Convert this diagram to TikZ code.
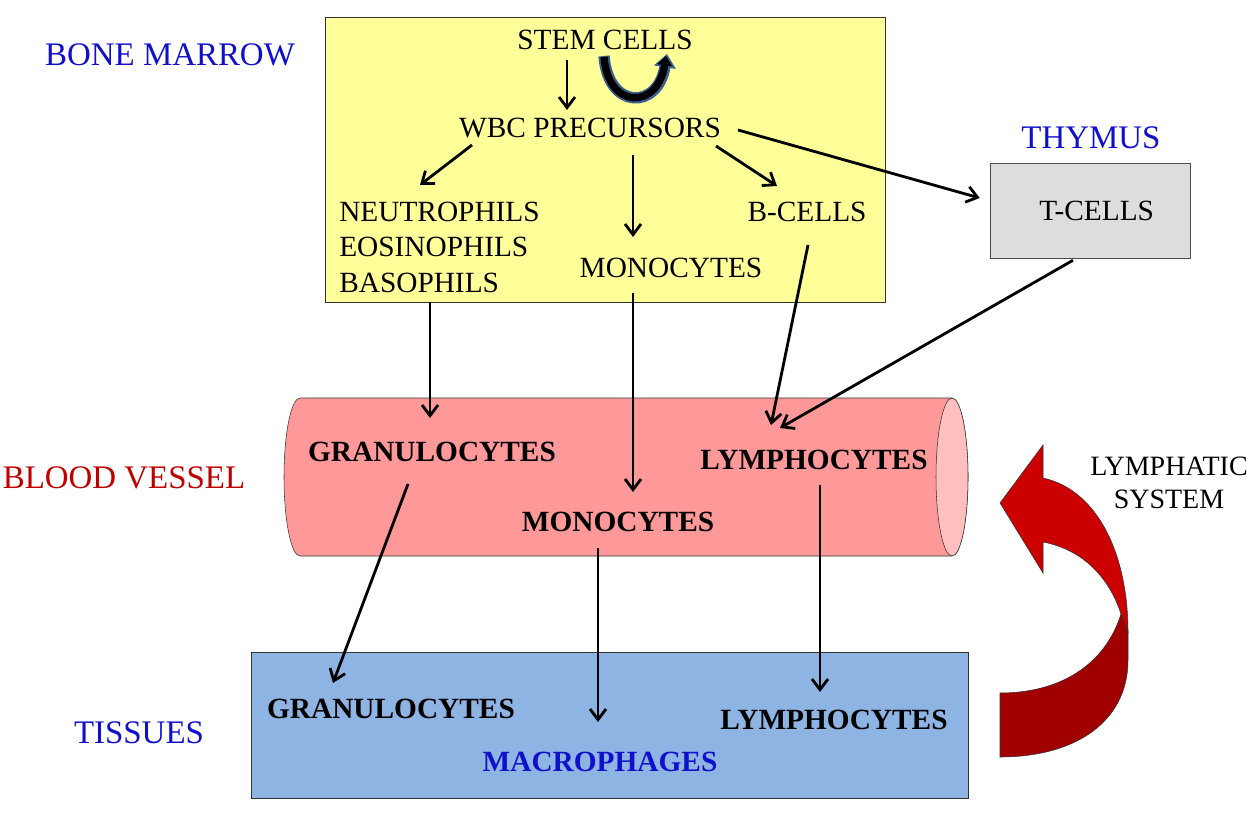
\documentclass[tikz,border=0pt]{standalone}
\usepackage{fontspec}
\setmainfont{Liberation Serif}
\usetikzlibrary{arrows.meta,calc}

\definecolor{marrowyellow}{HTML}{FFFF99}
\definecolor{vesselpink}{HTML}{FF9999}
\definecolor{vesselcap}{HTML}{FFBFBF}
\definecolor{thymusgray}{HTML}{DDDDDD}
\definecolor{tissueblue}{HTML}{8EB4E3}
\definecolor{labelblue}{HTML}{1010CC}
\definecolor{labelred}{HTML}{C00000}
\definecolor{lymphred}{HTML}{CC0000}
\definecolor{lymphdark}{HTML}{A00000}
\definecolor{loopblue}{HTML}{3A5F8F}

\begin{document}
\begin{tikzpicture}[x=0.75pt,y=0.75pt,yscale=-1,xscale=1,
    txt/.style={inner sep=0.75pt,font=\fontsize{22}{26.6}\selectfont},
    bold/.style={inner sep=0.75pt,font=\fontsize{22}{26.6}\selectfont\bfseries},
    region/.style={inner sep=0.75pt,font=\fontsize{24.7}{30}\selectfont},
    arr/.style={line width=2.1pt,-{Straight Barb[length=8pt,width=12pt]}}]

    \useasboundingbox (0,0) rectangle (1257,813);

    % Boxes
    \draw[fill=marrowyellow, draw=black!80] (325,17) rectangle (885,302);
    \draw[fill=tissueblue, draw=black!80] (251,652) rectangle (968,798);
    \node[draw=black!70, fill=thymusgray, minimum width=150pt, minimum height=71.25pt,
          txt, text depth=0pt] (tcells) at (1090,210.5) {\hspace*{10pt}T-CELLS};

    % Blood vessel
    \draw[fill=vesselpink, draw=black!80] (300,398) -- (952,398)
        arc[start angle=-90, end angle=90, x radius=16, y radius=79]
        -- (300,556)
        arc[start angle=90, end angle=270, x radius=16, y radius=79] -- cycle;
    \draw[fill=vesselcap, draw=black!80] (952,477) ellipse [x radius=16, y radius=79];

    % Lymphatic arrow
    \draw[fill=lymphdark, draw=black!80] (1121,614) -- (1128,632) -- (1128,660)
        .. controls (1128,722) and (1075,757) .. (1000,757) -- (1000,693)
        .. controls (1060,693) and (1105,665) .. (1121,614) -- cycle;
    \draw[fill=lymphred, draw=black!80] (1043,478)
        .. controls (1098,490) and (1128,555) .. (1128,632) -- (1121,614)
        .. controls (1110,580) and (1085,550) .. (1043,542)
        -- (1043,573) -- (1000,503) -- (1043,445) -- cycle;

    % Region labels
    \node[region, text=labelblue] (marrow) at (170,55) {BONE MARROW};
    \node[region, text=labelblue] (thymus) at (1091,138) {THYMUS};
    \node[region, text=labelred] (vessel) at (124,478) {BLOOD VESSEL};
    \node[region, text=labelblue] (tissues) at (139,733) {TISSUES};
    \node[inner sep=0.75pt, align=center, font=\fontsize{21}{24.5}\selectfont]
        (lymphatic) at (1169,483) {LYMPHATIC\\SYSTEM};

    % Bone marrow cells
    \node[txt] (stem) at (605,40) {STEM CELLS};
    \node[txt] (wbc) at (590,128) {WBC PRECURSORS};
    \node[txt, anchor=west, align=left] (neut) at (338,247) {NEUTROPHILS\\EOSINOPHILS\\BASOPHILS};
    \node[txt] (mono1) at (671,268) {MONOCYTES};
    \node[txt] (bcells) at (807,212) {B-CELLS};

    % Blood vessel cells
    \node[bold] (gran2) at (432,452) {GRANULOCYTES};
    \node[bold] (lymph2) at (814,460) {LYMPHOCYTES};
    \node[bold] (mono2) at (618,522) {MONOCYTES};

    % Tissue cells
    \node[bold] (gran3) at (391,709) {GRANULOCYTES};
    \node[bold, text=labelblue] (macro) at (600,762) {MACROPHAGES};
    \node[bold] (lymph3) at (834,720) {LYMPHOCYTES};

    % Self renewal
    \draw[line width=8.5pt, draw=loopblue, -{Triangle[length=10pt,width=16pt]}]
        ($(stem)+(-1,16)$) .. controls ($(stem)+(3,70)$) and ($(stem)+(53,70)$) .. ($(stem)+(62,14)$);
    \draw[line width=5.5pt, -{Triangle[length=7pt,width=11pt]}]
        ($(stem)+(-1,17)$) .. controls ($(stem)+(3,70)$) and ($(stem)+(53,70)$) .. ($(stem)+(61,16)$);

    % Arrows
    \draw[arr] ($(stem)+(-38,20)$) -- ($(wbc)+(-23,-18)$);
    \draw[arr] ($(wbc)+(-118,17)$) -- ($(neut.west)+(82,-62)$);
    \draw[arr] ($(wbc)+(43,27)$) -- ($(mono1)+(-38,-31)$);
    \draw[arr] ($(wbc)+(126,18)$) -- ($(bcells)+(-30,-26)$);
    \draw[arr] ($(wbc)+(148,2)$) -- ($(tcells.west)+(-10,-12.5)$);
    \draw[arr] ($(neut.west)+(92,55)$) -- ($(gran2)+(-2,-34)$);
    \draw[arr] ($(mono1)+(-38,25)$) -- ($(mono2)+(15,-30)$);
    \draw[arr] ($(bcells)+(1,33)$) -- ($(lymph2)+(-43,-35)$);
    \draw[arr] ($(tcells.south)+(-17,2)$) -- ($(lymph2)+(-34,-32)$);
    \draw[arr] ($(gran2)+(-24,32)$) -- ($(gran3)+(-58,-26)$);
    \draw[arr] ($(mono2)+(-20,26)$) -- ($(macro)+(-2,-40)$);
    \draw[arr] ($(lymph2)+(6,25)$) -- ($(lymph3)+(-14,-28)$);

\end{tikzpicture}
\end{document}
